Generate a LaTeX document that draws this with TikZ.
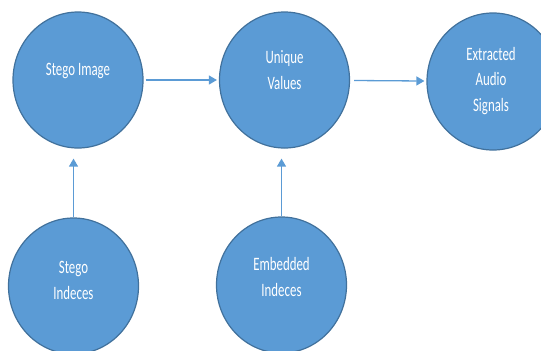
\documentclass[tikz,border=0pt]{standalone}
\usepackage{fontspec}
\newfontfamily\ballfont[FakeStretch=0.68]{Carlito}
\usetikzlibrary{arrows.meta,positioning,calc,shapes.geometric}
\definecolor{ballfill}{HTML}{5B9BD5}
\definecolor{ballline}{HTML}{41719C}

\begin{document}
\begin{tikzpicture}[
		x=1bp,y=-1bp,
		>={Triangle[length=8bp,width=9bp]},
		ball/.style={ellipse, fill=ballfill, draw=ballline, line width=1.2bp,
			minimum width=130bp, minimum height=136bp, inner sep=0pt},
		balltext/.style={align=center, text=white,
			font=\ballfont\fontsize{19}{26}\selectfont},
		link/.style={->, draw=ballfill, line width=1.3bp}
		]
		
		% frame
		\useasboundingbox (0,0) rectangle (541,350);
		\clip (0,0) rectangle (541,350);
		
		% =========================
		% Top row
		% =========================
		\node[ball] (simg) at (78,80) {};
		\node[balltext] (simgtext) at ($(simg)+(0,-9)$) {Stego Image};
		
		\node[ball] (uval) at (284.5,80) {};
		\node[balltext] (uvaltext) at ($(uval)+(0,-10)$) {Unique\\Values};
		
		\node[ball, minimum width=132bp, minimum height=137bp] (eaud) at (493,81.5) {};
		\node[balltext] (eaudtext) at ($(eaud)+(-2,-0.5)$) {Extracted\\Audio\\Signals};
		
		% =========================
		% Bottom row
		% =========================
		\node[ball] (sind) at (73.5,286) {};
		\node[balltext] (sindtext) at ($(sind)+(0,-6)$) {Stego\\Indeces};
		
		\node[ball] (eind) at (281.5,285) {};
		\node[balltext] (eindtext) at ($(eind)+(0,-8)$) {Embedded\\Indeces};
		
		% connectors
		\draw[link, shorten <=2bp, shorten >=2bp] (simg) -- (uval);
		\draw[link, shorten <=4bp, shorten >=2bp] (uval) -- (eaud);
		\draw[link, shorten >=10bp] (sind) -- (sind |- simg.south);
		\draw[link, shorten >=10bp] (eind) -- (eind |- uval.south);
		
	\end{tikzpicture}
\end{document}
